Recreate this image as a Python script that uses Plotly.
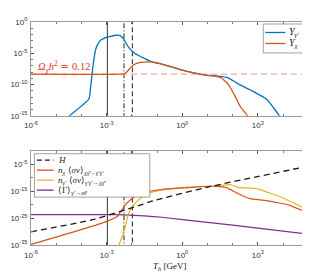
import numpy as np
import plotly.graph_objects as go

# ---------------- data (log10 values) ----------------
# Top panel: yields
Ygp_logT = [-4.6, -3.70, -3.64, -3.58, -3.50, -3.42, -3.30, -3.20, -3.0, -2.8, -2.64, -2.50, -2.40,
            -2.31, -2.12, -1.86, -1.47, -1.21, -0.82, -0.04, 0.87, 1.52, 1.84, 2.17, 2.69, 3.34, 3.83, 3.95]
Ygp_logY = [-15.4, -12.28, -10.6, -8.4, -5.8, -4.2, -3.2, -2.8, -2.45, -2.25, -2.12, -2.12, -2.35,
            -2.83, -4.1, -5.08, -5.88, -6.36, -6.72, -7.64, -8.44, -8.71, -8.97, -9.77, -10.84, -12.33, -14.84, -15.4]

Ychi_logT = [-6.0, -2.40, -2.30, -2.20, -2.05, -1.90, -1.70, -1.50, -1.21, -0.82, -0.04, 0.87, 1.20,
             1.52, 1.84, 2.10, 2.30, 2.56, 2.65]
Ychi_logY = [-8.35, -8.35, -8.28, -8.0, -7.3, -6.8, -6.5, -6.42, -6.38, -6.72, -7.64, -8.44, -8.6,
             -8.87, -10.04, -11.9, -13.5, -14.84, -15.4]

Omega_logT = [-6.0, 4.95]
Omega_logY = [-8.35, -8.35]

# Bottom panel: rates
H_logT = [-6.0, -3.55, -1.6, -1.21, 1.06, 4.96]
H_logY = [-30.1, -25.6, -20.0, -18.7, -13.4, -5.8]

ann_logT = [-6.0, -3.16, -2.57, -2.40, -2.25, -2.05, -1.86, -1.6, -1.34, -0.82, 0.09, 1.06, 1.5,
            1.78, 2.17, 2.45, 2.69, 3.34, 3.86, 4.24, 4.96]
ann_logY = [-34.8, -26.8, -24.3, -22.0, -20.0, -18.2, -16.9, -15.8, -15.1, -14.4, -13.8, -13.2, -13.3,
            -13.8, -15.7, -17.0, -17.8, -18.5, -19.4, -20.2, -23.0]

inv_logT = [-2.55, -2.31, -2.12, -1.86, -1.47, -0.95, 0.09, 1.06, 1.6, 1.91, 2.23, 2.95, 3.47, 3.86, 4.24, 4.96]
inv_logY = [-36.0, -29.9, -23.1, -19.4, -16.3, -14.8, -13.6, -13.2, -12.8, -12.6, -13.6, -14.1, -15.7,
            -17.0, -18.6, -21.9]

dec_logT = [-6.0, -3.0, -2.3, -1.5, -0.82, 1.0, 3.0, 4.96]
dec_logY = [-23.7, -23.7, -23.8, -24.2, -24.7, -26.6, -28.7, -30.9]

# vertical marker temperatures (GeV)
vline_T = [1.07e-3, 4.9e-3, 1.05e-2]
vline_dash = ["solid", "5px,2px,1px,2px", "5px,3px"]
vline_color = ["#333333", "#222222", "#222222"]

xtick_vals = [1e-6, 1e-3, 1e0, 1e3]
xtick_text = ["10<sup>-6</sup>", "10<sup>-3</sup>", "10<sup>0</sup>", "10<sup>3</sup>"]
y1tick_vals = [1e0, 1e-5, 1e-10, 1e-15]
y1tick_text = ["10<sup>0</sup>", "10<sup>-5</sup>", "10<sup>-10</sup>", "10<sup>-15</sup>"]
y2tick_vals = [1e-5, 1e-15, 1e-25, 1e-35]
y2tick_text = ["10<sup>-5</sup>", "10<sup>-15</sup>", "10<sup>-25</sup>", "10<sup>-35</sup>"]

BLUE = "#0072BD"
ORANGE = "#D95319"
YELLOW = "#EDB120"
PURPLE = "#7E2F8E"


def p(v):
    return 10 ** np.array(v, dtype=float)


fig = go.Figure()

# vertical lines in both panels
for T, d, c in zip(vline_T, vline_dash, vline_color):
    fig.add_trace(go.Scatter(x=[T, T], y=[1e-17, 1e2], mode="lines", xaxis="x", yaxis="y",
                             line=dict(color=c, width=1, dash=d), showlegend=False, hoverinfo="skip"))
    fig.add_trace(go.Scatter(x=[T, T], y=[1e-37, 1e2], mode="lines", xaxis="x2", yaxis="y2",
                             line=dict(color=c, width=1, dash=d), showlegend=False, hoverinfo="skip"))

# top panel
fig.add_trace(go.Scatter(x=p(Omega_logT), y=p(Omega_logY), mode="lines", xaxis="x", yaxis="y",
                         line=dict(color="#F7A8A8", width=1.3, dash="6px,4px"), showlegend=False))
fig.add_trace(go.Scatter(x=p(Ygp_logT), y=p(Ygp_logY), mode="lines", xaxis="x", yaxis="y",
                         line=dict(color=BLUE, width=1.3, shape="spline", smoothing=0.5), showlegend=False))
fig.add_trace(go.Scatter(x=p(Ychi_logT), y=p(Ychi_logY), mode="lines", xaxis="x", yaxis="y",
                         line=dict(color=ORANGE, width=1.3, shape="spline", smoothing=0.5), showlegend=False))

# bottom panel
fig.add_trace(go.Scatter(x=p(dec_logT), y=p(dec_logY), mode="lines", xaxis="x2", yaxis="y2",
                         line=dict(color=PURPLE, width=1.2, shape="spline", smoothing=0.5), showlegend=False))
fig.add_trace(go.Scatter(x=p(inv_logT), y=p(inv_logY), mode="lines", xaxis="x2", yaxis="y2",
                         line=dict(color=YELLOW, width=1.2, shape="spline", smoothing=0.5), showlegend=False))
fig.add_trace(go.Scatter(x=p(ann_logT), y=p(ann_logY), mode="lines", xaxis="x2", yaxis="y2",
                         line=dict(color=ORANGE, width=1.2, shape="spline", smoothing=0.5), showlegend=False))
fig.add_trace(go.Scatter(x=p(H_logT), y=p(H_logY), mode="lines", xaxis="x2", yaxis="y2",
                         line=dict(color="#1a1a1a", width=1.3, dash="6px,4px", shape="spline", smoothing=0.4),
                         showlegend=False))

# The page body adds an 8px offset; size the figure so it fills the 310x275 window.
OFF = 8
W, Hh = 310 - OFF, 275 - OFF
ML, MR, MT, MB = 27 - OFF, 2, 22 - OFF, 29.5
PH = Hh - MT - MB


def py(pix):
    return (Hh - MB - (pix - OFF)) / PH


def px(pix):
    return ((pix - OFF) - ML) / (W - ML - MR)


tickfont = dict(family="Liberation Sans, Arial", size=8, color="#333333")
common_x = dict(type="log", range=[-6, 4.95], showline=True, linecolor="#9a9a9a", linewidth=1,
                mirror="ticks", ticks="inside", ticklen=3, tickcolor="#555555", tickwidth=0.8,
                showgrid=False, zeroline=False, tickvals=xtick_vals, ticktext=xtick_text,
                tickfont=tickfont,
                minor=dict(tickvals=[10.0 ** k for k in range(-6, 5)], ticks="inside", ticklen=2,
                           tickcolor="#777777", showgrid=False))

fig.update_layout(
    width=W, height=Hh,
    margin=dict(l=ML, r=MR, t=MT, b=MB),
    paper_bgcolor="white", plot_bgcolor="white",
    showlegend=False,
    xaxis=dict(common_x, anchor="y", ticklabelstandoff=2),
    xaxis2=dict(common_x, anchor="y2", ticklabelstandoff=2),
    yaxis=dict(type="log", range=[-15, 0], domain=[py(116), 1.0], anchor="x",
               showline=True, linecolor="#9a9a9a", linewidth=1, mirror="ticks", ticks="inside",
               ticklen=3, tickcolor="#555555", tickwidth=0.8, showgrid=False, zeroline=False,
               tickvals=y1tick_vals, ticktext=y1tick_text, tickfont=tickfont, ticklabelstandoff=1,
               minor=dict(tickvals=[10.0 ** k for k in range(-15, 1)], ticks="inside", ticklen=2,
                          tickcolor="#777777", showgrid=False)),
    yaxis2=dict(type="log", range=[-35, 0], domain=[0, py(151)], anchor="x2",
                showline=True, linecolor="#9a9a9a", linewidth=1, mirror="ticks", ticks="inside",
                ticklen=3, tickcolor="#555555", tickwidth=0.8, showgrid=False, zeroline=False,
                tickvals=y2tick_vals, ticktext=y2tick_text, tickfont=tickfont, ticklabelstandoff=1,
                minor=dict(tickvals=[10.0 ** k for k in range(-30, 1, 10)], ticks="inside", ticklen=2,
                           tickcolor="#777777", showgrid=False)),
)

serif = "Liberation Serif, Times New Roman, serif"
shapes = []
annotations = []

# Omega annotation
annotations.append(dict(xref="paper", yref="paper", x=px(32), y=py(67), xanchor="left", yanchor="middle",
                        text="<i>Ω<sub>χ</sub>h</i><sup>2</sup> ≃ 0.12", showarrow=False,
                        font=dict(family=serif, size=10.5, color="#E8302A")))

# x-axis title
annotations.append(dict(xref="paper", yref="paper", x=0.5, y=py(267), xanchor="center", yanchor="middle",
                        text="<i>T<sub>h</sub></i> [GeV]", showarrow=False,
                        font=dict(family=serif, size=9, color="#222222")))

# top legend
shapes.append(dict(type="rect", xref="paper", yref="paper", x0=px(263.5), x1=px(306.5), y0=py(53), y1=py(24),
                   fillcolor="white", line=dict(color="#8a8a8a", width=0.8), layer="above"))
top_leg = [("<i>Y<sub>γ'</sub></i>", BLUE, 32.5), ("<i>Y<sub>χ</sub></i>", ORANGE, 43.5)]
for txt, col, yy in top_leg:
    shapes.append(dict(type="line", xref="paper", yref="paper", x0=px(265.5), x1=px(286), y0=py(yy), y1=py(yy),
                       line=dict(color=col, width=1.3), layer="above"))
    annotations.append(dict(xref="paper", yref="paper", x=px(287.5), y=py(yy), xanchor="left", yanchor="middle",
                            text=txt, showarrow=False, font=dict(family=serif, size=10, color="#222222")))

# bottom legend
shapes.append(dict(type="rect", xref="paper", yref="paper", x0=px(30.5), x1=px(148), y0=py(197.5), y1=py(154),
                   fillcolor="white", line=dict(color="#8a8a8a", width=0.8), layer="above"))
bot_leg = [
    ("<i>H</i>", "#1a1a1a", 160.5, "5px,3px"),
    ("<i>n<sub>χ</sub></i> ⟨<i>σv</i>⟩<sub><i>χχ̄</i>→<i>γ'γ'</i></sub>", ORANGE, 170.5, "solid"),
    ("<i>n<sub>γ'</sub></i> ⟨<i>σv</i>⟩<sub><i>γ'γ'</i>→<i>χχ̄</i></sub>", YELLOW, 180.5, "solid"),
    ("⟨Γ⟩<sub><i>γ'</i>→<i>eē</i></sub>", PURPLE, 190.5, "solid"),
]
for txt, col, yy, d in bot_leg:
    shapes.append(dict(type="line", xref="paper", yref="paper", x0=px(33), x1=px(50), y0=py(yy), y1=py(yy),
                       line=dict(color=col, width=1.3, dash=d), layer="above"))
    annotations.append(dict(xref="paper", yref="paper", x=px(52), y=py(yy), xanchor="left", yanchor="middle",
                            text=txt, showarrow=False, font=dict(family=serif, size=9, color="#222222")))

fig.update_layout(shapes=shapes, annotations=annotations)

fig.write_html("out.html")
